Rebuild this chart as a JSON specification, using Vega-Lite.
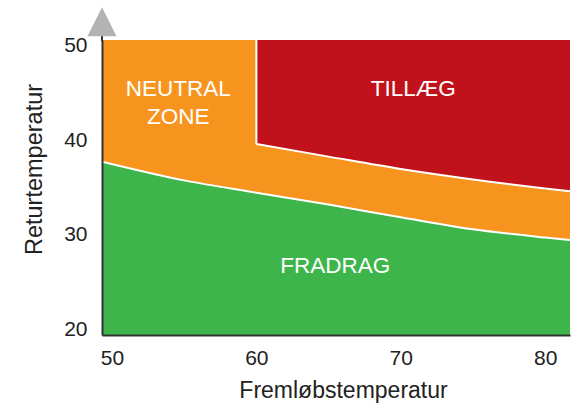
{
  "$schema": "https://vega.github.io/schema/vega-lite/v6.json",
  "width": 468,
  "height": 295,
  "autosize": "none",
  "padding": {"left": 102, "top": 40, "right": 2, "bottom": 68},
  "background": "white",
  "config": {
    "view": {"stroke": null, "fill": "#F7941E"},
    "font": "Liberation Sans"
  },
  "datasets": {
    "green": [
      {"x": 49.31, "y": 37.72},
      {"x": 55, "y": 35.75},
      {"x": 60, "y": 34.45},
      {"x": 65, "y": 33.2},
      {"x": 70, "y": 31.87},
      {"x": 75, "y": 30.6},
      {"x": 80, "y": 29.73},
      {"x": 81.72, "y": 29.47}
    ],
    "red": [
      {"x": 60, "y": 39.58},
      {"x": 65, "y": 38.25},
      {"x": 70, "y": 36.95},
      {"x": 75, "y": 35.85},
      {"x": 80, "y": 34.9},
      {"x": 81.72, "y": 34.6}
    ],
    "labels": [
      {"label": "NEUTRAL", "x": 54.59, "y": 45.37},
      {"label": "ZONE", "x": 54.59, "y": 42.45},
      {"label": "TILLÆG", "x": 70.87, "y": 45.4},
      {"label": "FRADRAG", "x": 65.46, "y": 26.74}
    ]
  },
  "layer": [
    {
      "data": {"name": "green"},
      "mark": {"type": "area", "color": "#3DB54B", "interpolate": "monotone", "clip": true},
      "encoding": {
        "x": {
          "field": "x", "type": "quantitative",
          "scale": {"domain": [49.31, 81.72], "nice": false, "zero": false},
          "axis": {
            "values": [50, 60, 70, 80],
            "title": "Fremløbstemperatur",
            "domainColor": "#333333", "domainWidth": 2, "zindex": 1,
            "ticks": false, "grid": false,
            "labelFontSize": 21, "labelColor": "#222222", "labelPadding": 12,
            "titleFontSize": 23, "titleFontWeight": "normal", "titleColor": "#222222",
            "titleX": 241, "titleY": 62, "titleBaseline": "alphabetic"
          }
        },
        "y": {
          "field": "y", "type": "quantitative",
          "scale": {"domain": [19.47, 50.53], "nice": false, "zero": false},
          "axis": {
            "values": [20, 30, 40, 50],
            "title": "Returtemperatur",
            "domainColor": "#333333", "domainWidth": 2, "zindex": 1,
            "ticks": false, "grid": false,
            "labelFontSize": 21, "labelColor": "#222222", "labelPadding": 15,
            "titleFontSize": 23.5, "titleFontWeight": "normal", "titleColor": "#222222",
            "titleX": -68, "titleY": 129, "titleBaseline": "middle", "titleAlign": "center"
          }
        },
        "y2": {"datum": 19.47}
      }
    },
    {
      "data": {"name": "red"},
      "mark": {"type": "area", "color": "#C1121B", "interpolate": "monotone", "clip": true},
      "encoding": {
        "x": {"field": "x", "type": "quantitative"},
        "y": {"field": "y", "type": "quantitative"},
        "y2": {"datum": 50.53}
      }
    },
    {
      "data": {"name": "green"},
      "mark": {"type": "line", "color": "white", "strokeWidth": 2, "interpolate": "monotone", "clip": true},
      "encoding": {
        "x": {"field": "x", "type": "quantitative"},
        "y": {"field": "y", "type": "quantitative"}
      }
    },
    {
      "data": {"name": "red"},
      "mark": {"type": "line", "color": "white", "strokeWidth": 2, "interpolate": "monotone", "clip": true},
      "encoding": {
        "x": {"field": "x", "type": "quantitative"},
        "y": {"field": "y", "type": "quantitative"}
      }
    },
    {
      "data": {"values": [{"x": 60, "y": 39.58, "y2": 50.53}]},
      "mark": {"type": "rule", "color": "white", "strokeWidth": 2},
      "encoding": {
        "x": {"field": "x", "type": "quantitative"},
        "y": {"field": "y", "type": "quantitative"},
        "y2": {"field": "y2"}
      }
    },
    {
      "data": {"name": "labels"},
      "mark": {"type": "text", "color": "white", "fontSize": 22.5, "baseline": "middle", "align": "center"},
      "encoding": {
        "x": {"field": "x", "type": "quantitative"},
        "y": {"field": "y", "type": "quantitative"},
        "text": {"field": "label"}
      }
    },
    {
      "data": {"values": [{"x": 49.31, "y": 50.4, "y2": 51.7}]},
      "mark": {"type": "rule", "color": "#333333", "strokeWidth": 2},
      "encoding": {
        "x": {"field": "x", "type": "quantitative"},
        "y": {"field": "y", "type": "quantitative"},
        "y2": {"field": "y2"}
      }
    },
    {
      "data": {"values": [{"x": 49.31, "y": 52.45}]},
      "mark": {"type": "point", "shape": "M0,-1L1,1L-1,1Z", "filled": true, "color": "#B3B3B3", "size": 850, "opacity": 1},
      "encoding": {
        "x": {"field": "x", "type": "quantitative"},
        "y": {"field": "y", "type": "quantitative"}
      }
    }
  ]
}
